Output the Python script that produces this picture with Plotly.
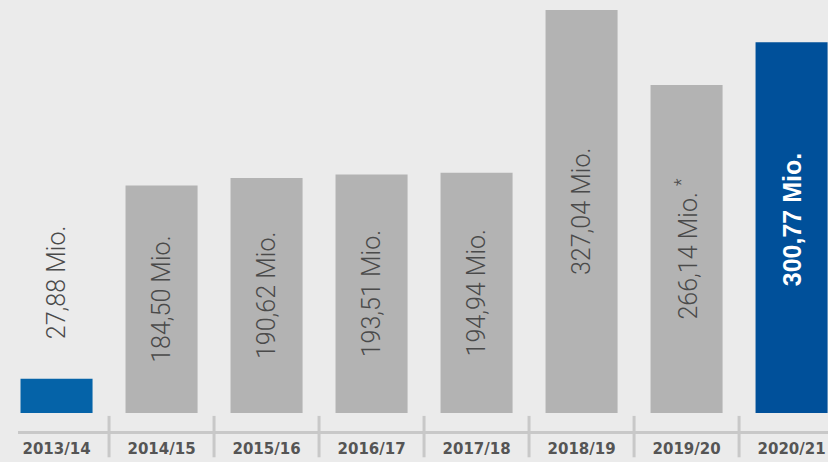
import plotly.graph_objects as go

categories = ["2013/14", "2014/15", "2015/16", "2016/17", "2017/18", "2018/19", "2019/20", "2020/21"]
values = [27.88, 184.50, 190.62, 193.51, 194.94, 327.04, 266.14, 300.77]
value_labels = ["27,88 Mio.", "184,50 Mio.", "190,62 Mio.", "193,51 Mio.", "194,94 Mio.",
                "327,04 Mio.", "266,14 Mio. <sup>*</sup>", "300,77 Mio."]

BLUE1 = "#0563a8"
BLUE2 = "#00509a"
GRAY = "#b3b3b3"
colors = [BLUE1] + [GRAY] * 6 + [BLUE2]

LABEL_FONT = dict(family="Roboto, Liberation Sans", size=25, color="#4a4a4a", weight=300)

fig = go.Figure()
fig.add_trace(go.Bar(
    x=categories, y=values,
    marker=dict(color=colors, line=dict(width=0)),
    hoverinfo="skip",
))

annotations = []
n = len(categories)
for i, (c, v, t) in enumerate(zip(categories, values, value_labels)):
    if i == 0:
        annotations.append(dict(x=c, y=v, yshift=96, text=t, textangle=-90, showarrow=False,
                                xanchor="center", yanchor="middle", font=LABEL_FONT))
    elif i == n - 1:
        annotations.append(dict(x=c, y=v / 2, yshift=8, text="<b>" + t + "</b>", textangle=-90, showarrow=False,
                                xanchor="center", yanchor="middle",
                                font=dict(family="Liberation Sans", size=25, color="white")))
    else:
        annotations.append(dict(x=c, y=v / 2, text=t, textangle=-90, showarrow=False,
                                xanchor="center", yanchor="middle", font=LABEL_FONT))

shapes = []
for i in range(n - 1):
    shapes.append(dict(type="line", xref="x", yref="paper", x0=i + 0.5, x1=i + 0.5,
                       y0=-0.061, y1=0.035, line=dict(color="#c8c8c8", width=3)))

fig.update_layout(
    width=828, height=462,
    margin=dict(l=18, r=0, t=0, b=31),
    paper_bgcolor="#ebebeb", plot_bgcolor="#ebebeb",
    bargap=0.314,
    showlegend=False,
    annotations=annotations,
    shapes=shapes,
    xaxis=dict(
        type="category", range=[-0.367, 7.347],
        showline=True, linecolor="#c8c8c8", linewidth=3,
        showgrid=False, zeroline=False, ticks="", ticklabelstandoff=2,
        tickfont=dict(family="DejaVu Sans", size=15, color="#555555", weight="bold"),
        fixedrange=True,
    ),
    yaxis=dict(
        range=[-14.6, 335.1], visible=False, showgrid=False, zeroline=False, fixedrange=True,
    ),
)

fig.write_html("out.html", config={"displayModeBar": False},
               post_script="document.body.style.margin='0';document.body.style.overflow='hidden';")
